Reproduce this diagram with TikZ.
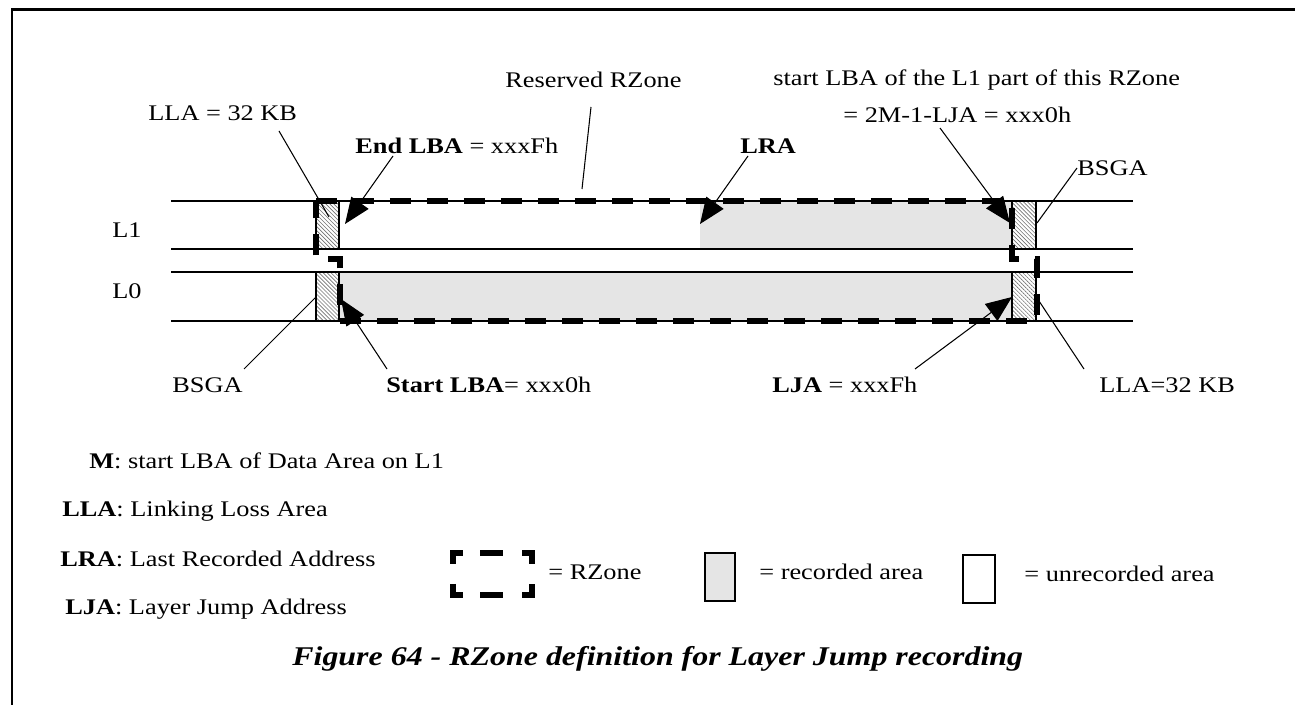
\documentclass[tikz,border=0pt]{standalone}
\usepackage{fontspec}
\setmainfont{Liberation Serif}[FakeStretch=1.18]
\usetikzlibrary{arrows.meta, patterns.meta}

\newcommand\lblsize{\fontsize{12.7}{15}\selectfont}
\newcommand\capsize{\fontsize{15.4}{18}\selectfont}
\definecolor{recgray}{gray}{0.9}

\begin{document}
\begin{tikzpicture}[x=0.02cm, y=-0.02cm,
    lbl/.style={anchor=base west, inner sep=0pt, font=\lblsize},
    layer/.style={line width=1pt},
    ptr/.style={line width=0.6pt},
    ptrhead/.style={ptr, -{Triangle[length=5.2mm, width=4.2mm]}},
    rzone/.style={line width=3.4pt, dash pattern=on 4.2mm off 3.2mm},
    rzmark/.style={line width=3.4pt},
    hatch/.style={pattern={Lines[angle=-45, distance=1.6pt, line width=0.35pt]},
                  pattern color=black!55},
    rec/.style={fill=recgray}
]
  \useasboundingbox (0,0) rectangle (1295,705);
  \draw[line width=1.7pt] (12,705) -- (12,10) -- (1295,10);

  % recorded areas, LLA and BSGA blocks
  \fill[rec] (339,272) rectangle (1012,321);
  \fill[rec] (700,201) rectangle (1012,249);
  \foreach \xa/\xb in {316/339, 1012/1036}
    \foreach \ya/\yb in {201/249, 272/321}
      \path[hatch] (\xa,\ya) rectangle (\xb,\yb);

  % layers
  \foreach \y in {201,249,272,321}
    \draw[layer] (171,\y) -- (1133,\y);
  \foreach \x in {316,339,1012,1036}
    \draw[layer] (\x,201) -- (\x,249) (\x,272) -- (\x,321);
  \node[lbl, anchor=base east] (l1) at (142,238) {L1};
  \node[lbl, anchor=base east] (l0) at (142,299) {L0};

  % the RZone
  \draw[rzone] (316,201) -- (1012,201) -- (1012,259) -- (1037,259)
    -- (1037,321) -- (340,321) -- (340,259) -- (316,259) -- cycle;

  % labels above
  \node[lbl] (llatop) at (148,121) {LLA = 32 KB};
  \node[lbl] (endlba) at (355,154) {\textbf{End LBA} = xxxFh};
  \node[lbl] (reserved) at (505,88) {Reserved RZone};
  \node[lbl] (lra) at (740,154) {\textbf{LRA}};
  \node[lbl] (startl1a) at (773,86) {start LBA of the L1 part of this RZone};
  \node[lbl] (startl1b) at (843,123) {= 2M-1-LJA = xxx0h};
  \node[lbl] (bsgatop) at (1077,176) {BSGA};

  % labels below
  \node[lbl] (bsgabot) at (172,393) {BSGA};
  \node[lbl] (startlba) at (386,393) {\textbf{Start LBA}= xxx0h};
  \node[lbl] (lja) at (772,393) {\textbf{LJA} = xxxFh};
  \node[lbl] (llabot) at (1099,393) {LLA=32 KB};

  % pointer ends
  \coordinate (a1) at (279,131);  \coordinate (b1) at (329,217);
  \coordinate (a2) at (393,156);  \coordinate (b2) at (345,224);
  \coordinate (a3) at (591,107);  \coordinate (b3) at (582,189);
  \coordinate (a4) at (748,156);  \coordinate (b4) at (700,224);
  \coordinate (a5) at (940,128);  \coordinate (b5) at (1010,223);
  \coordinate (a6) at (1077,168); \coordinate (b6) at (1037,223);
  \coordinate (a7) at (244,369);  \coordinate (b7) at (316,297);
  \coordinate (a8) at (387,369);  \coordinate (b8) at (341,299);
  \coordinate (a9) at (915,369);  \coordinate (b9) at (1012,297);
  \coordinate (a10) at (1084,369); \coordinate (b10) at (1037,298);

  \draw[ptr] (a1) -- (b1);
  \draw[ptrhead] (a2) -- (b2);
  \draw[ptr] (a3) -- (b3);
  \draw[ptrhead] (a4) -- (b4);
  \draw[ptrhead] (a5) -- (b5);
  \draw[ptr] (a6) -- (b6);
  \draw[ptr] (a7) -- (b7);
  \draw[ptrhead] (a8) -- (b8);
  \draw[ptrhead] (a9) -- (b9);
  \draw[ptr] (a10) -- (b10);

  % abbreviations
  \node[lbl] (defm) at (89,469) {\textbf{M}: start LBA of Data Area on L1};
  \node[lbl] (deflla) at (62,517) {\textbf{LLA}: Linking Loss Area};
  \node[lbl] (deflra) at (60,567) {\textbf{LRA}: Last Recorded Address};
  \node[lbl] (deflja) at (65,615) {\textbf{LJA}: Layer Jump Address};

  % legend
  \draw[rzmark] (453,564) -- (453,553) -- (463,553);
  \draw[rzmark] (480,553) -- (503,553);
  \draw[rzmark] (522,553) -- (532,553) -- (532,564);
  \draw[rzmark] (453,584) -- (453,595) -- (463,595);
  \draw[rzmark] (480,595) -- (503,595);
  \draw[rzmark] (522,595) -- (532,595) -- (532,584);
  \node[lbl] (keyrz) at (548,580) {= RZone};
  \draw[layer, rec] (705,553) rectangle (735,601);
  \node[lbl] (keyrec) at (759,580) {= recorded area};
  \draw[layer] (963,555) rectangle (995,603);
  \node[lbl] (keyunrec) at (1024,582) {= unrecorded area};

  \node[anchor=base west, inner sep=0pt, font=\capsize\bfseries\itshape] (caption)
    at (292,665) {Figure 64 - RZone definition for Layer Jump recording};
\end{tikzpicture}
\end{document}
